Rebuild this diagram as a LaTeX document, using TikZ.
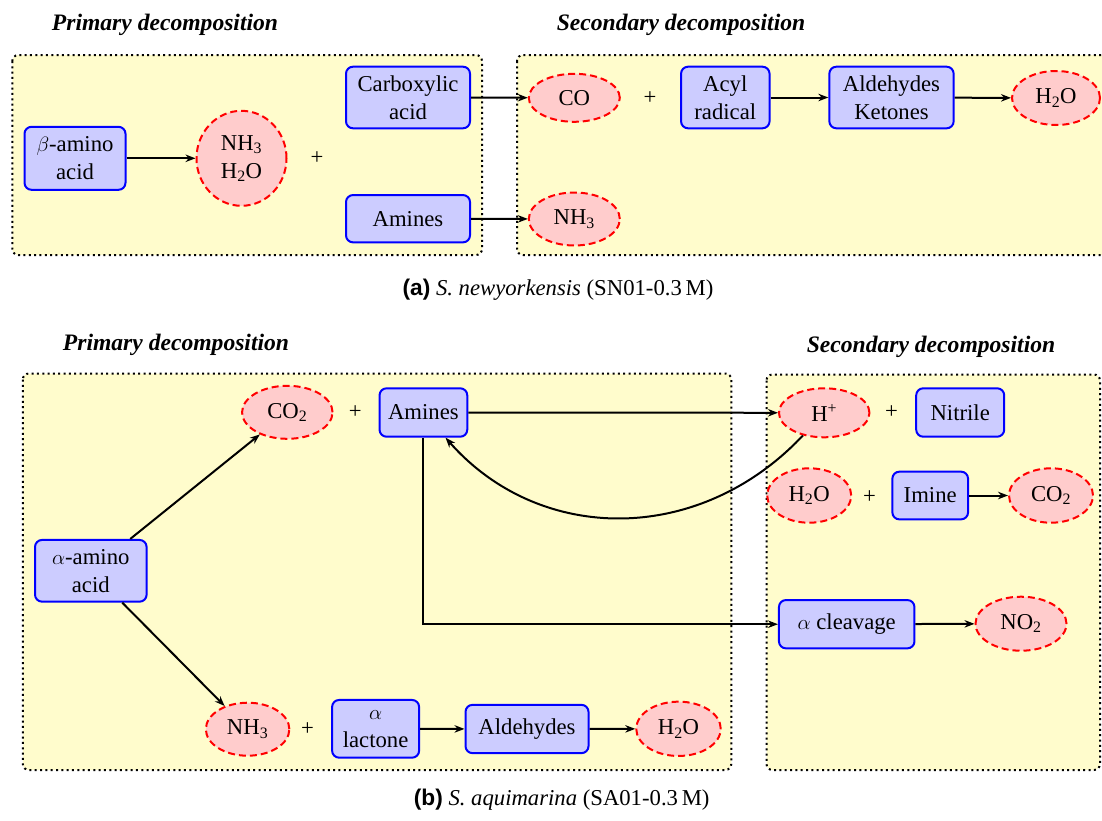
\documentclass[tikz,border=0pt]{standalone}
\usepackage{fontspec}
\setmainfont{Liberation Serif}
\newfontfamily\tms{Liberation Serif}
\newfontfamily\capsans{Liberation Sans}
\usetikzlibrary{shapes.geometric,arrows.meta}
\tikzset{
  txt/.style={font=\tms\fontsize{22.7}{28}\selectfont, align=center},
  box/.style={txt, draw=blue, fill=blue!20, rounded corners=7pt, line width=2pt, inner sep=0pt},
  gas/.style={txt, ellipse, draw=red, fill=red!20, line width=2pt, dash pattern=on 7pt off 4pt, inner sep=0pt},
  region/.style={draw=black, fill=yellow!20, rounded corners=6pt, line width=2pt, dash pattern=on 2pt off 3.33pt},
  flow/.style={line width=2pt, -{Stealth[length=10pt,width=7.5pt]}},
  ttl/.style={font=\tms\fontsize{23.6}{28}\selectfont\bfseries\itshape},
  captxt/.style={font=\tms\fontsize{22.7}{28}\selectfont},
  plussign/.style={txt, inner sep=0pt}
}
\newcommand{\sbs}[1]{\textsubscript{#1}}
\begin{document}
\begin{tikzpicture}[x=1pt,y=-1pt]
\useasboundingbox (0,0) rectangle (1102,820);
% ---------------- (a) ----------------
\node[ttl] (t1) at (165,25) {Primary decomposition};
\node[ttl] (t2) at (681,25) {Secondary decomposition};
\path[region] (12.3,55) rectangle (482,255);
\path[region] (517,55) rectangle (1125,255);

\node[box, minimum width=101pt, minimum height=63pt] (b1) at (75,158.3) {$\beta$-amino\\acid};
\node[gas, minimum width=90pt, minimum height=95pt] (g1) at (241.5,158.3) {NH\sbs{3}\\H\sbs{2}O};
\node[plussign] (p1) at (317,158) {+};
\node[box, minimum width=124pt, minimum height=61.6pt] (b2) at (408,97.5) {Carboxylic\\acid};
\node[box, minimum width=124pt, minimum height=47.3pt] (b3) at (408,218.7) {Amines};
\node[gas, minimum width=91pt, minimum height=48pt] (g2) at (574.3,97.8) {CO};
\node[plussign] (p2) at (650,98) {+};
\node[box, minimum width=88.5pt, minimum height=61.6pt] (b4) at (725.3,97.5) {Acyl\\radical};
\node[box, minimum width=124.3pt, minimum height=61.6pt] (b5) at (891.5,97.5) {Aldehydes\\Ketones};
\node[gas, minimum width=88pt, minimum height=54pt] (g3) at (1056,98) {H\sbs{2}O};
\node[gas, minimum width=91pt, minimum height=53pt] (g4) at (574.3,219) {NH\sbs{3}};

\draw[flow] (b1) -- (g1);
\draw[flow] (b2) -- (g2);
\draw[flow] (b3) -- (g4);
\draw[flow] (b4) -- (b5);
\draw[flow] (b5) -- (g3);

\node[captxt] (ca) at (558,290) {{\capsans\bfseries (a)} \textit{S. newyorkensis} (SN01-0.3\,M)};

% ---------------- (b) ----------------
\node[ttl] (t3) at (176,345) {Primary decomposition};
\node[ttl] (t4) at (931,347) {Secondary decomposition};
\path[region] (22.8,373.5) rectangle (731.3,770);
\path[region] (766.5,374.5) rectangle (1100,770);

\node[box, minimum width=111.6pt, minimum height=61.7pt] (a1) at (90.8,570.8) {$\alpha$-amino\\acid};
\node[gas, minimum width=90.5pt, minimum height=53pt] (c1) at (287.3,412.3) {CO\sbs{2}};
\node[plussign] (p3) at (355.3,412) {+};
\node[box, minimum width=87.7pt, minimum height=48.4pt] (a2) at (423.4,412.5) {Amines};
\node[gas, minimum width=90.5pt, minimum height=49pt] (h1) at (824.2,412.8) {H\textsuperscript{+}};
\node[plussign] (p4) at (891.5,412) {+};
\node[box, minimum width=88pt, minimum height=48.4pt] (a3) at (960.2,412.5) {Nitrile};
\node[gas, minimum width=84pt, minimum height=54.4pt] (h2) at (809.2,495.5) {H\sbs{2}O};
\node[plussign] (p5) at (869.4,497) {+};
\node[box, minimum width=75.7pt, minimum height=47.7pt] (a4) at (930.2,495.5) {Imine};
\node[gas, minimum width=84pt, minimum height=54.4pt] (c2) at (1051,495.5) {CO\sbs{2}};
\node[box, minimum width=135.5pt, minimum height=48.3pt] (a5) at (846.7,624.2) {$\alpha$ cleavage};
\node[gas, minimum width=91pt, minimum height=54pt] (n2) at (1021,623.7) {NO\sbs{2}};
\node[gas, minimum width=83.5pt, minimum height=53pt] (n1) at (247.6,729.2) {NH\sbs{3}};
\node[plussign] (p6) at (307.6,729) {+};
\node[box, minimum width=87pt, minimum height=57.7pt] (a6) at (375.6,728.8) {$\alpha$\\lactone};
\node[box, minimum width=123pt, minimum height=48.3pt] (a7) at (527,729) {Aldehydes};
\node[gas, minimum width=84.5pt, minimum height=54.3pt] (h3) at (678.5,728.8) {H\sbs{2}O};

\draw[flow] (a1) -- (c1);
\draw[flow] (a1) -- (n1);
\draw[flow] (a2) -- (h1);
\draw[flow] (a2.south) |- (a5.west);
\draw[flow] (h1) .. controls (700,545) and (540,545) .. (a2);
\draw[flow] (a4) -- (c2);
\draw[flow] (a5) -- (n2);
\draw[flow] (a6) -- (a7);
\draw[flow] (a7) -- (h3);

\node[captxt] (cb) at (561.7,800) {{\capsans\bfseries (b)} \textit{S. aquimarina} (SA01-0.3\,M)};
\end{tikzpicture}
\end{document}
